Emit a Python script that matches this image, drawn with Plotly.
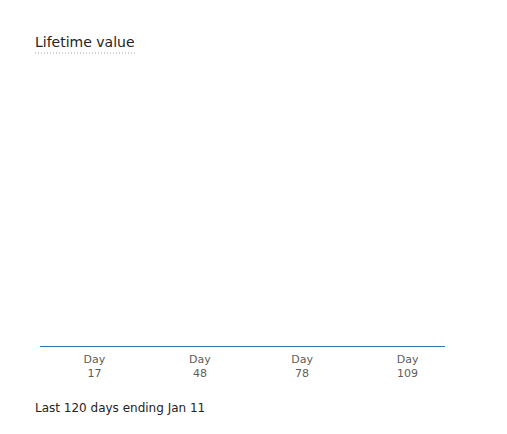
import plotly.graph_objects as go

days = list(range(1, 121))
values = [0] * 120
tick_days = [17, 48, 78, 109]
tick_labels = ["Day<br>17", "Day<br>48", "Day<br>78", "Day<br>109"]

fig = go.Figure()
fig.add_trace(go.Scatter(x=days, y=values, mode="lines",
                         line=dict(color="#2f77b0", width=2), hoverinfo="skip"))

L, R, T, B = 32, 70, 62, 95
W, H = 507, 434
pw, ph = W - L - R, H - T - B

def px_x(screen_x):
    return (screen_x - 8 - L) / pw

def px_y(screen_y):
    return (H - B - (screen_y - 8)) / ph

fig.update_layout(
    width=W, height=H,
    paper_bgcolor="white", plot_bgcolor="white",
    margin=dict(l=L, r=R, t=T, b=B),
    showlegend=False,
    xaxis=dict(range=[1, 120], tickvals=tick_days, ticktext=tick_labels,
               showgrid=False, zeroline=False, showline=False, ticks="",
               ticklabelstandoff=4,
               tickfont=dict(family="DejaVu Sans", size=11, color="#605e5c"),
               fixedrange=True),
    yaxis=dict(range=[0, 1], visible=False, showgrid=False, zeroline=False, fixedrange=True),
    annotations=[
        dict(text="Lifetime value", xref="paper", yref="paper", x=px_x(33), y=px_y(42),
             xanchor="left", yanchor="middle", showarrow=False,
             font=dict(family="DejaVu Sans", size=14, color="#252423")),
        dict(text="Last 120 days ending Jan 11", xref="paper", yref="paper", x=px_x(33), y=px_y(408),
             xanchor="left", yanchor="middle", showarrow=False,
             font=dict(family="DejaVu Sans", size=12, color="#252423")),
    ],
    shapes=[dict(type="line", xref="paper", yref="paper", x0=px_x(35), x1=px_x(137),
                 y0=px_y(53), y1=px_y(53), line=dict(color="#a0a0a0", width=1, dash="1px,2px"))],
)
fig.write_html("out.html")
